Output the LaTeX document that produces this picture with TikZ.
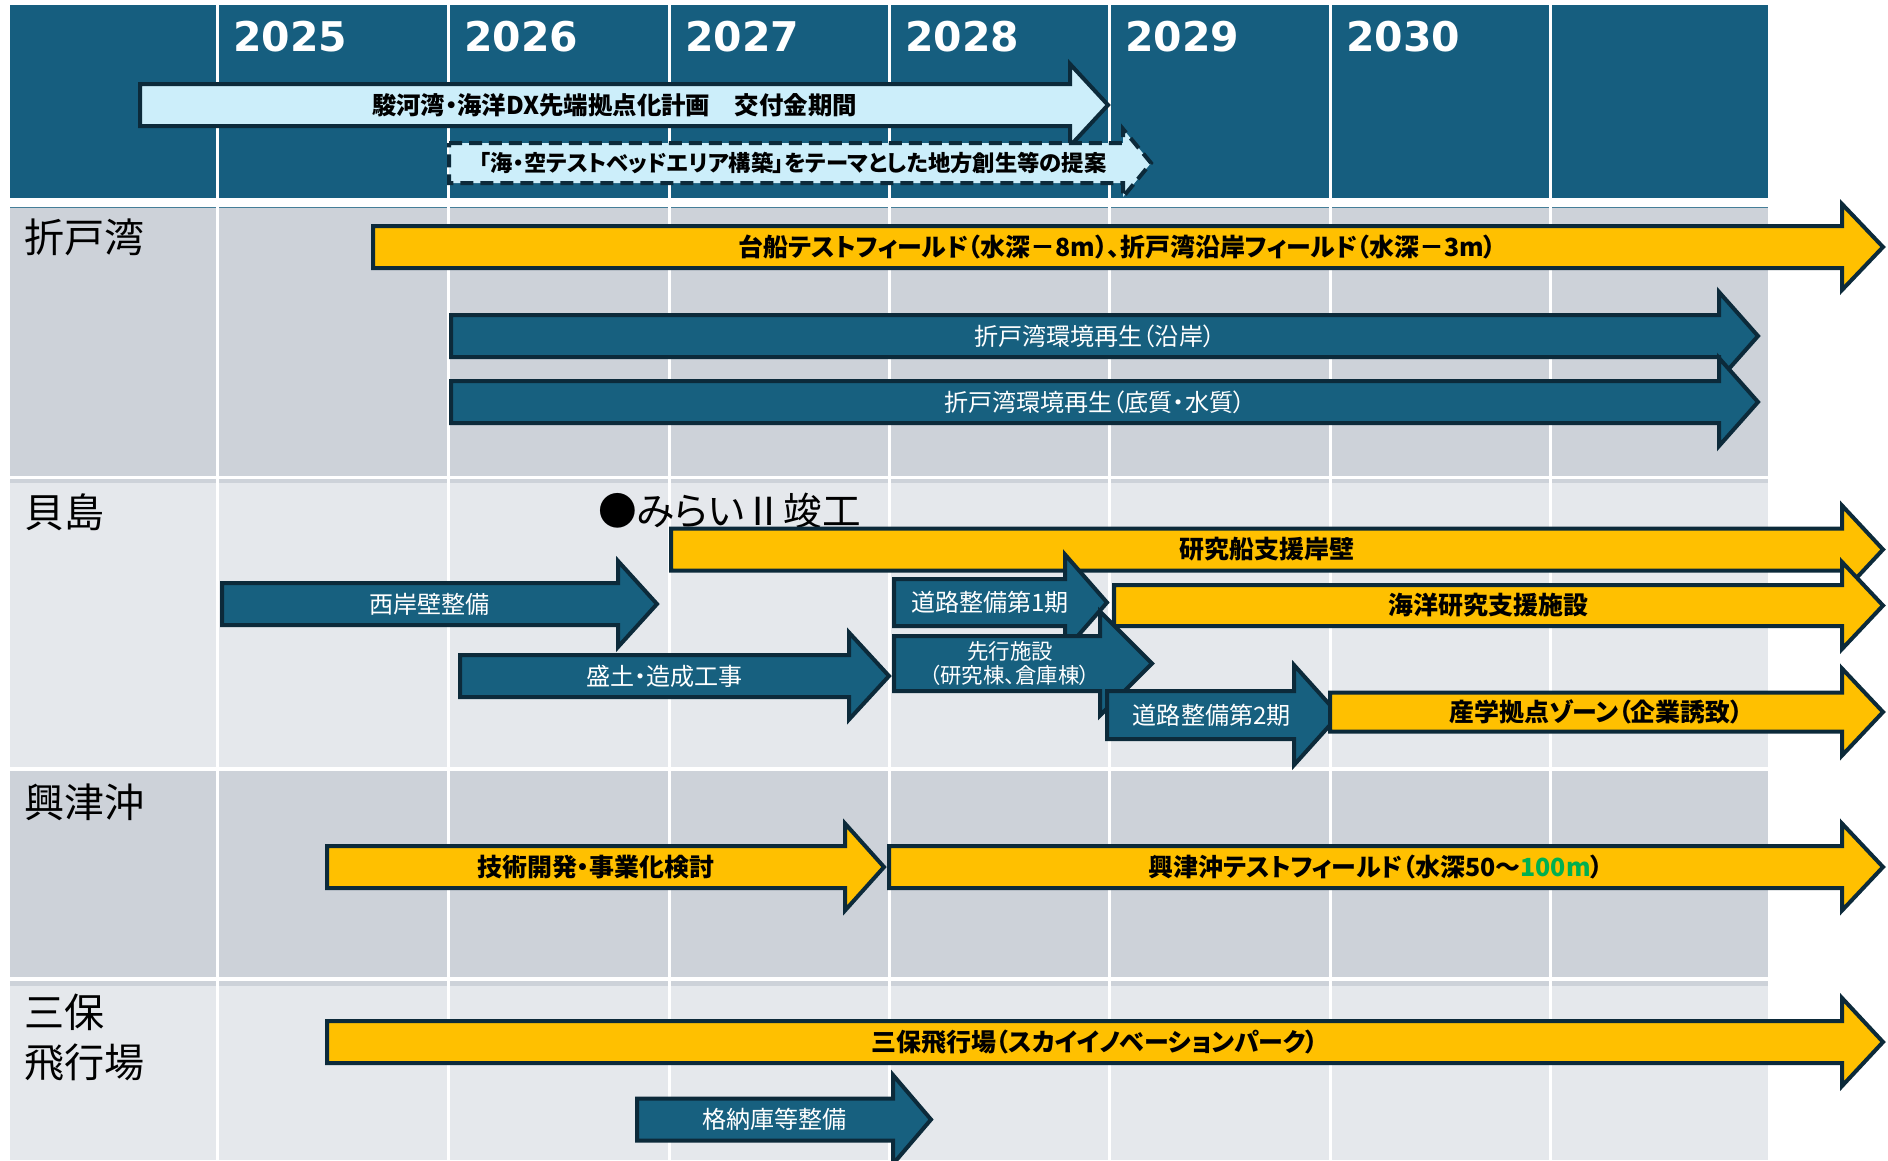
\documentclass[tikz,border=0pt]{standalone}
\usepackage{fontspec}
\setmainfont[RawFeature=+palt]{Noto Sans CJK JP}
\newfontfamily\yearfont{DejaVu Sans}

\definecolor{headblue}{HTML}{165E7F}
\definecolor{barblue}{HTML}{17607F}
\definecolor{edgedark}{HTML}{0C2A3A}
\definecolor{baryellow}{HTML}{FFC000}
\definecolor{barlight}{HTML}{CCEEFA}
\definecolor{rowdark}{HTML}{CDD2D9}
\definecolor{rowlight}{HTML}{E5E8EC}
\definecolor{mgreen}{HTML}{00B050}

% [extra]{kind}{name}{left}{head start}{tip}{y}{text}
\newcommand{\planarrow}[8][]{%
  \draw[#2bar, #1] (#4,#7-\bh) -- (#5,#7-\bh) -- (#5,#7-\hh) -- (#6,#7)
    -- (#5,#7+\hh) -- (#5,#7+\bh) -- (#4,#7+\bh) -- cycle;
  \node[#2txt] (#3) at ({(#4+(#5+#6)/2)/2},#7) {#8};
}

\begin{document}
\begin{tikzpicture}[x=0.02cm, y=-0.02cm,
  bh/.store in=\bh, hh/.store in=\hh,
  bar/.style={line width=0.08cm, draw=edgedark, bh=21, hh=43},
  ybar/.style={bar, fill=baryellow},
  bbar/.style={bar, fill=barblue},
  sbar/.style={bbar},
  lbar/.style={bar, fill=barlight},
  dbar/.style={bar, fill=barlight, dash pattern=on 0.26cm off 0.14cm},
  ytxt/.style={inner sep=0pt, text=black, font=\fontsize{14.2}{16}\selectfont\bfseries},
  btxt/.style={inner sep=0pt, text=white, align=center, font=\fontsize{13.7}{16}\selectfont},
  stxt/.style={btxt, font=\fontsize{12.2}{14.2}\selectfont},
  ltxt/.style={ytxt, font=\fontsize{13.9}{16}\selectfont\bfseries},
  dtxt/.style={inner sep=0pt, text=black, font=\fontsize{12.7}{14}\selectfont\bfseries},
  year/.style={anchor=west, inner sep=0pt, text=white, font={\yearfont\fontsize{23.3}{28}\selectfont\bfseries}},
  area/.style={anchor=west, inner sep=0pt, align=left, font=\fontsize{22.8}{28.45}\selectfont}]
\useasboundingbox (0,0) rectangle (1888,1160);
% bands
\fill[headblue] (10,5) rectangle (1768,198);
\fill[rowdark] (10,207) rectangle (1768,476);
\fill[rowlight] (10,479) rectangle (1768,767);
\fill[rowdark] (10,771) rectangle (1768,977);
\fill[rowlight] (10,981) rectangle (1768,1160);
\draw[headblue!80, line width=0.6pt] (10,207.5) -- (1768,207.5);
\fill[rowdark] (10,479) rectangle (1768,483);
\fill[rowdark] (10,981) rectangle (1768,986);
% year grid
\foreach \x in {217,448,669,889,1109,1330,1550}
  \draw[white, line width=0.06cm] (\x,5) -- (\x,1160);
\foreach \yr/\x in {2025/217,2026/448,2027/669,2028/889,2029/1109,2030/1330}
  \node[year] (y\yr) at (\x+16,37) {\yr};
% areas
\node[area] (orido) at (24,237) {折戸湾};
\node[area] (kaijima) at (24,512) {貝島};
\node[area] (okitsu) at (24,802) {興津沖};
\node[area] (miho) at (24,1038) {三保\\飛行場};

% plan period
\planarrow[bh=21, hh=41]{l}{kofu}{140}{1070}{1108}{105}{駿河湾・海洋DX先端拠点化計画　交付金期間}
\planarrow[bh=20, hh=34]{d}{teian}{449}{1123}{1151}{163}{「海・空テストベッドエリア構築」をテーマとした地方創生等の提案}

% Orido bay
\planarrow{y}{daisen}{373}{1842}{1883}{247}{台船テストフィールド（水深－8m）、折戸湾沿岸フィールド（水深－3m）}
\planarrow[hh=44]{b}{engan}{451}{1719}{1758}{336}{折戸湾環境再生（沿岸）}
\planarrow[hh=44]{b}{teishitsu}{451}{1719}{1758}{402}{折戸湾環境再生（底質・水質）}

% Kaijima
\node[anchor=west, inner sep=0pt, font=\fontsize{22}{28}\selectfont] (mirai) at (598,511) {●みらいⅡ竣工};
\planarrow[hh=44]{y}{ganpeki}{671}{1842}{1883}{549.5}{研究船支援岸壁}
\planarrow{b}{nishi}{222}{618}{657}{604}{西岸壁整備}
\planarrow[bh=23.5, hh=48]{b}{doro1}{894}{1065}{1107}{602.5}{道路整備第1期}
\planarrow[bh=20.5, hh=43.5]{y}{shisetsu}{1114}{1842}{1883}{605.5}{海洋研究支援施設}
\planarrow[bh=27.5, hh=52]{s}{senko}{894}{1100}{1152}{663.5}{先行施設\\（研究棟、倉庫棟）}
\planarrow[hh=43.5]{b}{morido}{460}{849}{889}{676}{盛土・造成工事}
\planarrow[bh=24, hh=50]{b}{doro2}{1107}{1294}{1339}{715}{道路整備第2期}
\planarrow[bh=19.5, hh=43.5]{y}{sangaku}{1330}{1842}{1883}{712}{産学拠点ゾーン（企業誘致）}

% Okitsu offshore
\planarrow[hh=43.5]{y}{gijutsu}{327}{845}{884}{867}{技術開発・事業化検討}
\planarrow[hh=43.5]{y}{okitsutf}{889}{1842}{1883}{867}{興津沖テストフィールド（水深50～\textcolor{mgreen}{100m}）}

% Miho airfield
\planarrow[hh=44]{y}{sky}{327}{1842}{1883}{1042}{三保飛行場（スカイイノベーションパーク）}
\planarrow[hh=44.5]{b}{kakuno}{637}{893}{931}{1119.5}{格納庫等整備}
\end{tikzpicture}
\end{document}
